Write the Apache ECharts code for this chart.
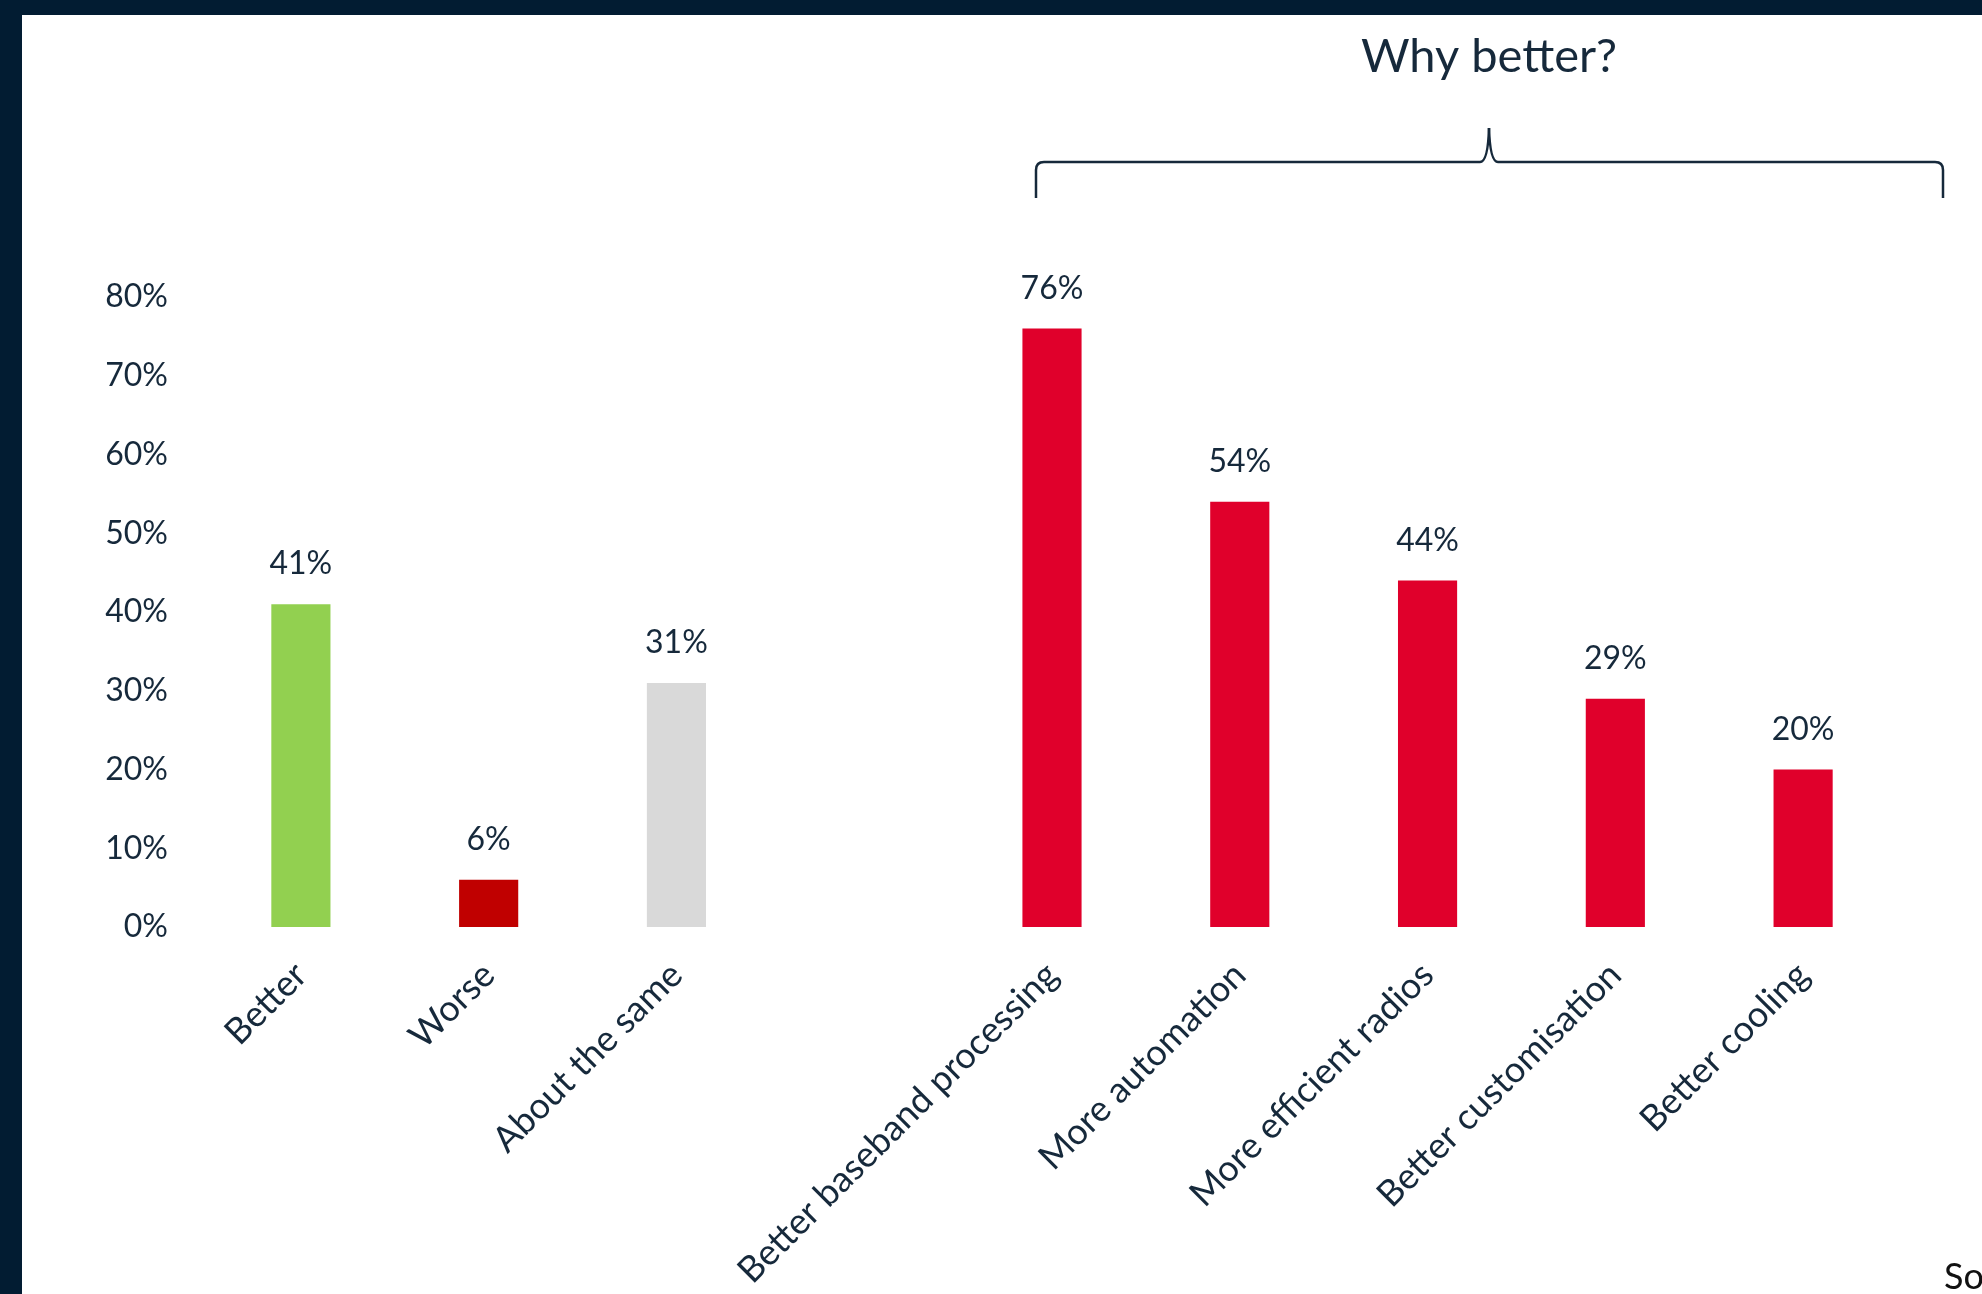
<!DOCTYPE html>
<html>
<head>
<meta charset="utf-8">
<title>Why better?</title>
<script src="https://cdn.jsdelivr.net/npm/echarts@6/dist/echarts.min.js"></script>
<style>
    html, body { margin: 0; padding: 0; background: #021c32; }
    #chart { width: 1982px; height: 1294px; }
</style>
</head>
<body>
<div id="chart"></div>
<script>
// categories (empty slot between the two groups)
var categories = ['Better', 'Worse', 'About the same', '',
    'Better baseband processing', 'More automation', 'More efficient radios',
    'Better customisation', 'Better cooling'];
var values = [0.41, 0.06, 0.31, null, 0.76, 0.54, 0.44, 0.29, 0.20];
var barColors = ['#92d050', '#c00000', '#d9d9d9', '#e0002b',
    '#e0002b', '#e0002b', '#e0002b', '#e0002b', '#e0002b'];
var yTicks = [0, 0.1, 0.2, 0.3, 0.4, 0.5, 0.6, 0.7, 0.8];

var textColor = '#16293b'
    , fontName = 'Lato';

var dom = document.getElementById('chart');
var myChart = echarts.init(dom);

var pct = function (v) { return Math.round(v * 100) + '%'; };

var seriesData = values.map(function (v, i) {
    return { value: v == null ? '-' : v, itemStyle: { color: barColors[i] } };
});

// brace pieces
var braceStyle = { stroke: textColor, lineWidth: 2.5, fill: null };
var seg = function (x1, y1, x2, y2) {
    return { type: 'line', z: 5, shape: { x1: x1, y1: y1, x2: x2, y2: y2 }, style: braceStyle };
};
var curve = function (x1, y1, cx, cy, x2, y2) {
    return { type: 'bezierCurve', z: 5, shape: { x1: x1, y1: y1, cpx1: cx, cpy1: cy, x2: x2, y2: y2 }, style: braceStyle };
};

var option = {
    backgroundColor: '#021c32',
    animation: false,
    textStyle: { fontFamily: fontName },
    grid: { left: 207, right: 85, top: 297, bottom: 367 },
    xAxis: {
        type: 'category',
        data: categories,
        axisLine: { show: false },
        axisTick: { show: false },
        axisLabel: {
            interval: 0,
            rotate: 45,
            margin: 42,
            fontSize: 36,
            color: textColor,
            fontFamily: fontName
        }
    },
    yAxis: {
        type: 'value',
        min: yTicks[0],
        max: yTicks[yTicks.length - 1],
        interval: 0.1,
        splitLine: { show: false },
        axisLine: { show: false },
        axisTick: { show: false },
        axisLabel: {
            margin: 39,
            fontSize: 32,
            color: textColor,
            fontFamily: fontName,
            formatter: function (v) { return pct(v); }
        }
    },
    series: [{
        type: 'bar',
        data: seriesData,
        barWidth: '31.5%',
        label: {
            show: true,
            position: 'top',
            distance: 24,
            fontSize: 32,
            color: textColor,
            fontFamily: fontName,
            formatter: function (p) { return pct(p.value); }
        }
    }],
    graphic: [
        // white panel inside the dark frame
        { type: 'rect', z: -10, shape: { x: 22, y: 15, width: 1960, height: 1279 }, style: { fill: '#ffffff' } },
        seg(1036, 198, 1036, 170),
        curve(1036, 170, 1036, 162, 1044, 162),
        seg(1044, 162, 1480, 162),
        curve(1480, 162, 1488, 162, 1489, 128),
        curve(1489, 128, 1490, 162, 1498, 162),
        seg(1498, 162, 1935, 162),
        curve(1935, 162, 1943, 162, 1943, 170),
        seg(1943, 170, 1943, 198),
        {
            type: 'text', z: 5, x: 1489, y: 57,
            style: {
                text: 'Why better?', fontSize: 47, fontFamily: fontName,
                fill: textColor, align: 'center', verticalAlign: 'middle'
            }
        },
        {
            type: 'text', z: 5, x: 1944, y: 1277,
            style: {
                text: 'Source:', fontSize: 36, fontFamily: fontName,
                fill: '#111111', align: 'left', verticalAlign: 'middle'
            }
        }
    ]
};

if (option && typeof option === 'object') {
    myChart.setOption(option, true);
}
</script>
</body>
</html>
